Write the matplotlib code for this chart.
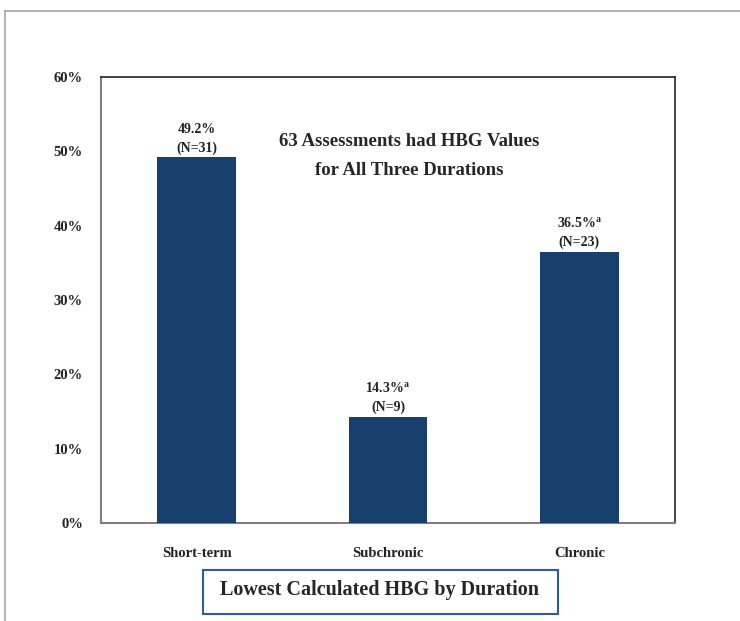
import matplotlib
matplotlib.use("Agg")
import matplotlib.pyplot as plt
from matplotlib.patches import Rectangle
from matplotlib.lines import Line2D

categories = ["Short-term", "Subchronic", "Chronic"]
values = [49.2, 14.3, 36.5]
counts = [31, 9, 23]
superscripts = ["", "a", "a"]
yticks = [0, 10, 20, 30, 40, 50, 60]
ytick_labels = ["0%", "10%", "20%", "30%", "40%", "50%", "60%"]
note_lines = ["63 Assessments had HBG Values", "for All Three Durations"]
box_title = "Lowest Calculated HBG by Duration"

plt.rcParams["font.family"] = ["Liberation Serif", "DejaVu Serif"]
plt.rcParams["mathtext.fontset"] = "custom"
plt.rcParams["mathtext.rm"] = "Liberation Serif:bold"
plt.rcParams["mathtext.bf"] = "Liberation Serif:bold"

W, H = 740, 621
fig = plt.figure(figsize=(W / 100, H / 100), dpi=100)
fig.patch.set_facecolor("white")

# outer frame lines
fig.add_artist(Line2D([5 / W, 5 / W], [0, 1 - 11 / H], transform=fig.transFigure,
                      color="#a6a6a6", lw=1.2))
fig.add_artist(Line2D([5 / W, 1], [1 - 11 / H, 1 - 11 / H], transform=fig.transFigure,
                      color="#a6a6a6", lw=1.2))

ax = fig.add_axes([101 / W, (H - 523) / H, 574 / W, (523 - 77) / H])
bar_color = "#17406f"
x = list(range(len(categories)))
ax.bar(x, values, width=0.41, color=bar_color, zorder=3)
ax.set_xlim(-0.5, 2.5)
ax.set_ylim(0, 60)
ax.set_yticks(yticks)
ax.set_yticklabels(ytick_labels, fontsize=10.5, fontweight="bold", color="#222222")
ax.tick_params(axis="y", length=0, pad=13)
ax.set_xticks(x)
ax.set_xticklabels(categories, fontsize=10.5, fontweight="bold", color="#222222")
ax.tick_params(axis="x", length=0, pad=17)
for side in ["top", "right"]:
    ax.spines[side].set_color("#222222")
    ax.spines[side].set_linewidth(1.2)
for side in ["left", "bottom"]:
    ax.spines[side].set_color("#7f7f7f")
    ax.spines[side].set_linewidth(1.5)

for xi, v, n, s in zip(x, values, counts, superscripts):
    pct = f"{v:.1f}%" + (r"$^{\mathrm{" + s + "}}$" if s else "")
    ax.annotate(pct + "\n" + f"(N={n})", xy=(xi, v), xytext=(0, 2),
                textcoords="offset points", ha="center", va="bottom",
                fontsize=10, fontweight="bold", color="#222222", linespacing=1.45)

ax.text(1.11, 51.3, note_lines[0], ha="center", va="center", fontsize=13.5,
        fontweight="bold", color="#262626")
ax.text(1.11, 47.4, note_lines[1], ha="center", va="center", fontsize=13.5,
        fontweight="bold", color="#262626")

# title box
box = Rectangle((203 / W, (H - 614) / H), (558 - 203) / W, (614 - 570) / H,
                transform=fig.transFigure, facecolor="white", edgecolor="#2e5c93", lw=1.5)
fig.add_artist(box)
fig.text(380 / W, (H - 590) / H, box_title, ha="center", va="center", fontsize=14.5,
         fontweight="bold", color="#262626")

fig.savefig("out.png", dpi=100)
